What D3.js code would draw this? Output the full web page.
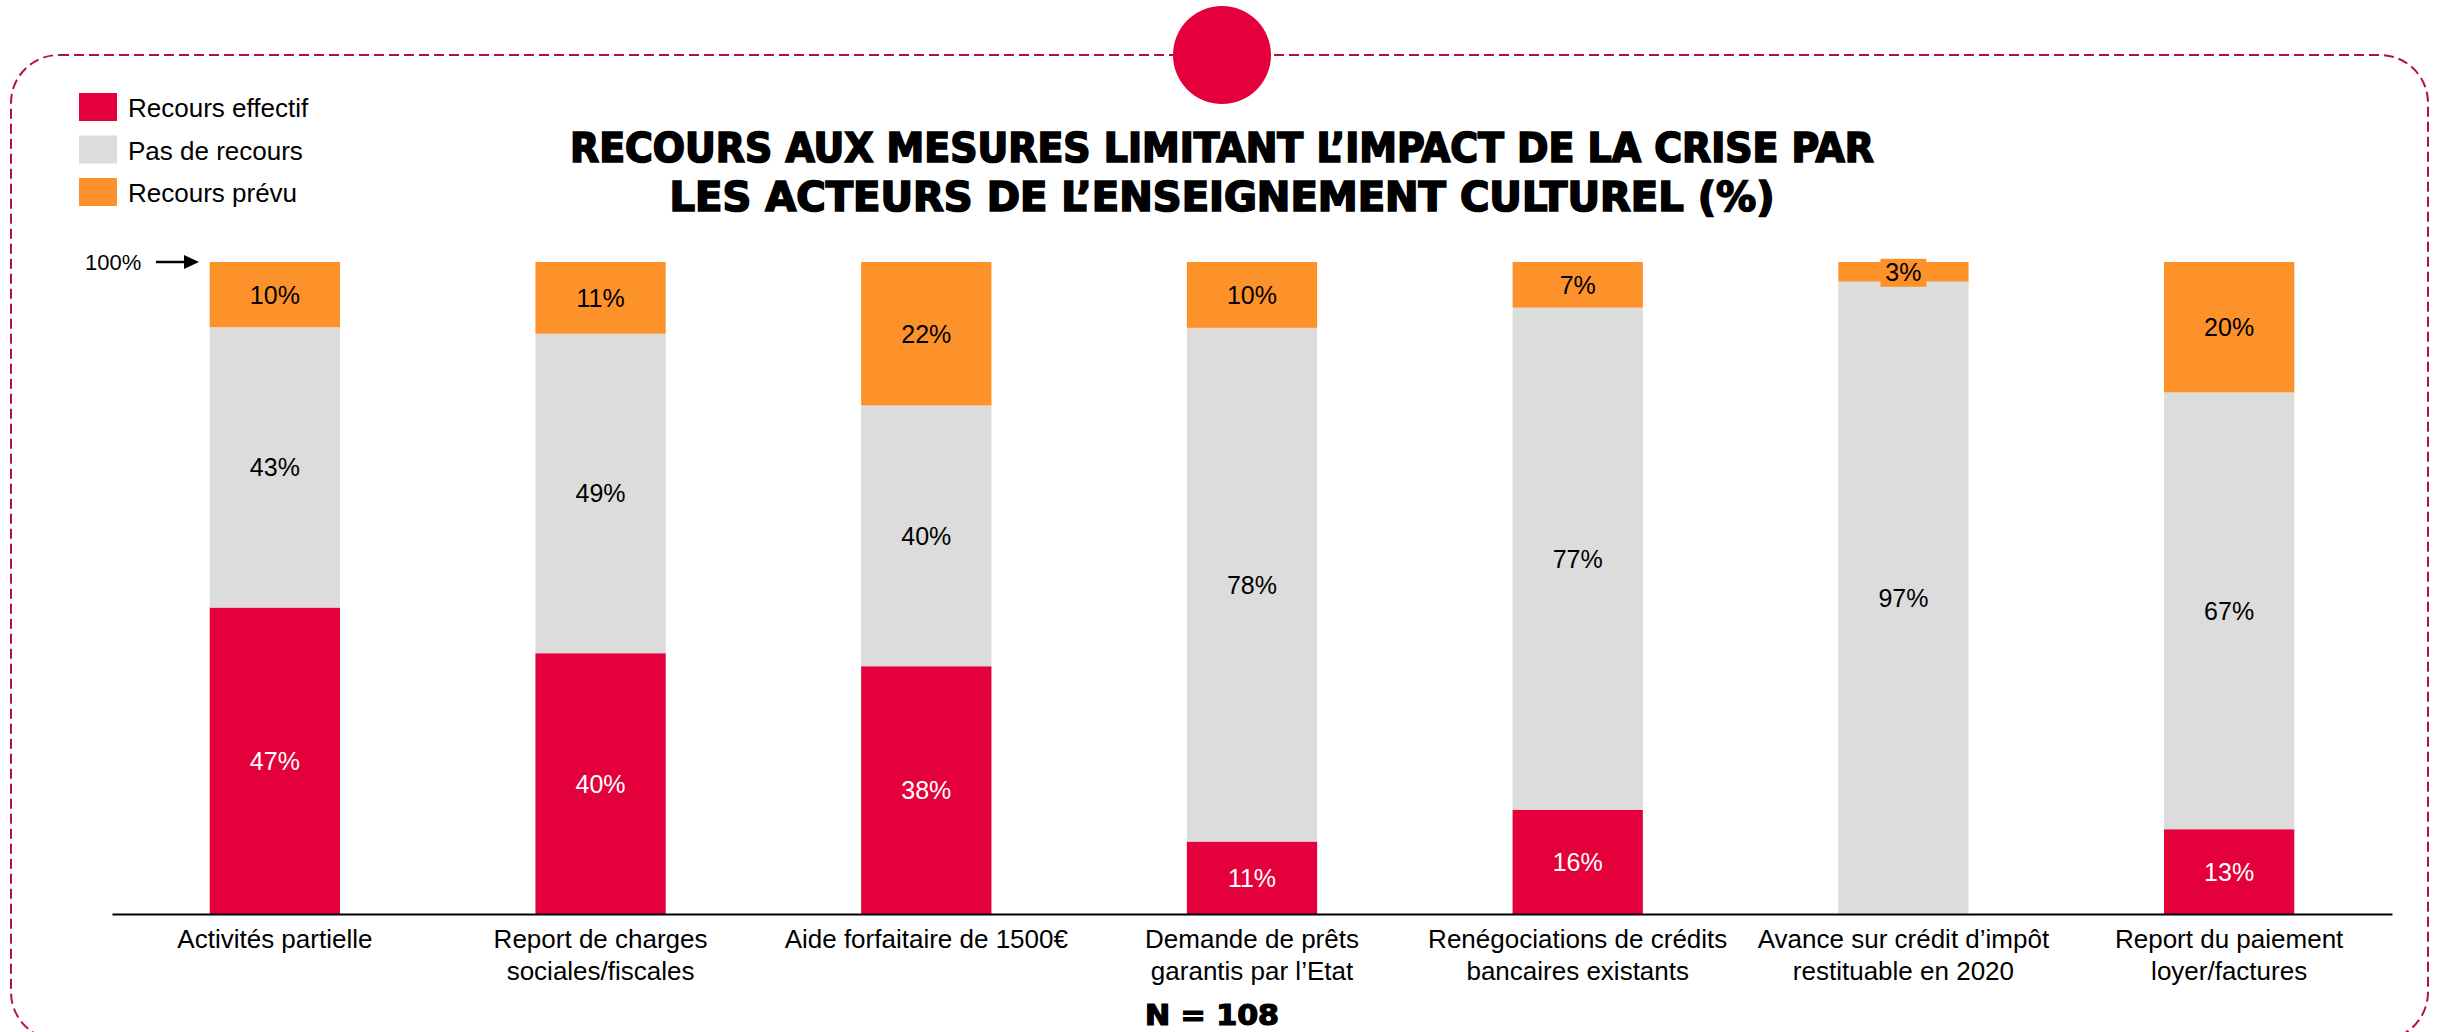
<!DOCTYPE html>
<html>
<head>
<meta charset="utf-8">
<script src="https://cdn.jsdelivr.net/npm/d3@7"></script>
<style>
  html, body { margin: 0; padding: 0; background: #fff; }
  svg { display: block; }
  text { font-family: "Liberation Sans", Arial, sans-serif; }
</style>
</head>
<body>
<script>
var categories = [
  ["Activités partielle"],
  ["Report de charges", "sociales/fiscales"],
  ["Aide forfaitaire de 1500€"],
  ["Demande de prêts", "garantis par l’Etat"],
  ["Renégociations de crédits", "bancaires existants"],
  ["Avance sur crédit d’impôt", "restituable en 2020"],
  ["Report du paiement", "loyer/factures"]
];
var effectif = [47, 40, 38, 11, 16, 0, 13];
var pasRecours = [43, 49, 40, 78, 77, 97, 67];
var prevu = [10, 11, 22, 10, 7, 3, 20];
var seriesNames = ["Recours effectif", "Pas de recours", "Recours prévu"];
var titleLines = ["RECOURS AUX MESURES LIMITANT L’IMPACT DE LA CRISE PAR",
                  "LES ACTEURS DE L’ENSEIGNEMENT CULTUREL (%)"];

var W = 2443, H = 1032;
var colors = ["#e4003a", "#dcdcdc", "#fd922b"];
var labelColors = ["#fff", "#000", "#000"];

var svg = d3.select("body").append("svg").attr("width", W).attr("height", H);

// dashed frame + circle
svg.append("rect")
  .attr("x", 11).attr("y", 55).attr("width", 2417).attr("height", 985)
  .attr("rx", 48).attr("ry", 48)
  .attr("fill", "none").attr("stroke", "#b3123d")
  .attr("stroke-width", 2).attr("stroke-dasharray", "10,5");
svg.append("circle").attr("cx", 1222).attr("cy", 55).attr("r", 49).attr("fill", "#e4003a");

// data table
var rows = categories.map(function(c, i){
  return { key: i, cat: c, v0: effectif[i], v1: pasRecours[i], v2: prevu[i] };
});
var stack = d3.stack().keys(["v0", "v1", "v2"]).offset(d3.stackOffsetExpand);
var layers = stack(rows);

var x = d3.scaleBand().domain(rows.map(function(d){ return d.key; }))
  .range([112, 2392]).paddingInner(0.6).paddingOuter(0.3);
var y = d3.scaleLinear().domain([0, 1]).range([914, 262]);

var g = svg.append("g");
layers.forEach(function(layer, li){
  g.selectAll(".s" + li).data(layer).enter().append("rect")
    .attr("x", function(d){ return x(d.data.key); })
    .attr("width", x.bandwidth())
    .attr("y", function(d){ return y(d[1]); })
    .attr("height", function(d){ return y(d[0]) - y(d[1]); })
    .attr("fill", colors[li]);
});

// value labels
layers.forEach(function(layer, li){
  layer.forEach(function(d){
    var v = d.data["v" + li];
    if (!v) return;
    var cx = x(d.data.key) + x.bandwidth() / 2;
    var cy = (y(d[0]) + y(d[1])) / 2;
    var small = (y(d[0]) - y(d[1])) < 28;
    if (small) {
      svg.append("rect").attr("x", cx - 23).attr("y", cy - 13)
        .attr("width", 46).attr("height", 28).attr("fill", colors[li]);
    }
    svg.append("text").attr("x", cx).attr("y", cy + 9)
      .attr("text-anchor", "middle").attr("font-size", 25)
      .attr("fill", labelColors[li]).text(v + "%");
  });
});

// x axis
var axis = svg.append("g").attr("transform", "translate(0,914)")
  .call(d3.axisBottom(x).tickSize(0).tickSizeOuter(0).tickFormat(""));
axis.select(".domain").attr("stroke", "#000").attr("stroke-width", 2);
axis.selectAll(".tick").each(function(k){
  var t = d3.select(this).append("text").attr("fill", "#000")
    .attr("text-anchor", "middle").attr("font-size", 26);
  categories[k].forEach(function(line, j){
    t.append("tspan").attr("x", 0).attr("y", 34 + j * 32).text(line);
  });
});

// 100% marker
svg.append("text").attr("x", 85).attr("y", 270).attr("font-size", 22).text("100%");
svg.append("line").attr("x1", 156).attr("x2", 186).attr("y1", 262).attr("y2", 262)
  .attr("stroke", "#000").attr("stroke-width", 2.5);
svg.append("path").attr("d", "M184,255 L199,262 L184,269 Z").attr("fill", "#000");

// legend
seriesNames.forEach(function(name, i){
  var ly = 93 + i * 42.5;
  svg.append("rect").attr("x", 79).attr("y", ly).attr("width", 38).attr("height", 28)
    .attr("fill", colors[i]);
  svg.append("text").attr("x", 128).attr("y", ly + 24).attr("font-size", 26).text(name);
});

// title
var titleBase = [162, 211];
var titleLen = [1304, 1105];
titleLines.forEach(function(line, i){
  svg.append("text").attr("x", 1222).attr("y", titleBase[i])
    .attr("text-anchor", "middle")
    .style("font-family", "'Liberation Sans Narrow', 'DejaVu Sans Condensed', sans-serif")
    .attr("font-weight", "bold").attr("font-size", 40)
    .attr("stroke", "#000").attr("stroke-width", 1.6)
    .attr("textLength", titleLen[i]).attr("lengthAdjust", "spacingAndGlyphs")
    .text(line);
});

svg.append("text").attr("x", 1212).attr("y", 1025).attr("text-anchor", "middle")
  .style("font-family", "'Liberation Sans Narrow', 'DejaVu Sans Condensed', sans-serif")
  .attr("font-weight", "bold").attr("font-size", 28)
  .attr("stroke", "#000").attr("stroke-width", 1.2)
  .attr("textLength", 134).attr("lengthAdjust", "spacingAndGlyphs")
  .text("N = 108");
</script>
</body>
</html>
